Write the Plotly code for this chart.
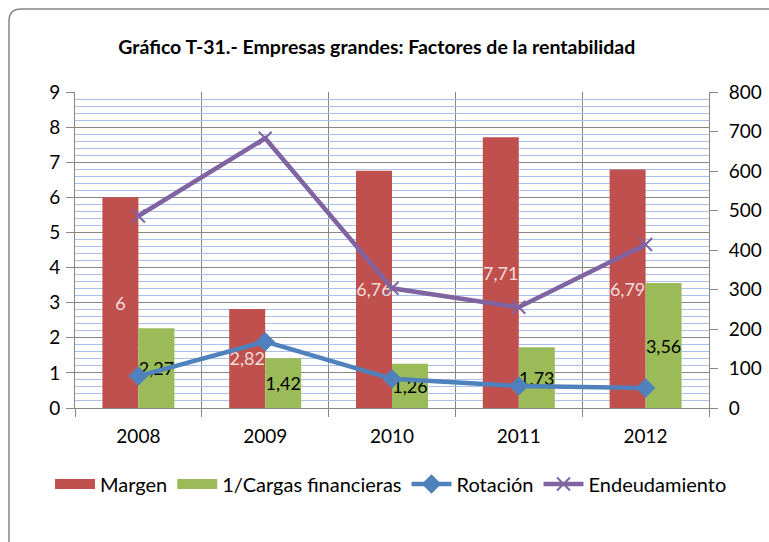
import plotly.graph_objects as go

years = ["2008", "2009", "2010", "2011", "2012"]
margen = [6, 2.82, 6.76, 7.71, 6.79]
cargas = [2.27, 1.42, 1.26, 1.73, 3.56]
rotacion = [0.91, 1.89, 0.83, 0.63, 0.57]
endeudamiento = [486, 683, 303, 255, 414]

left_ticks = list(range(0, 10))
right_ticks = list(range(0, 900, 100))

xpos = list(range(len(years)))

def fmt(v):
    s = ("%g" % v).replace(".", ",")
    return s

FONT = "Lato"
RED, GREEN, BLUE, PURPLE = "#C0504D", "#9BBB59", "#4F81BD", "#8064A2"

fig = go.Figure()
fig.add_trace(go.Bar(
    x=xpos, y=margen, name="Margen", marker=dict(color=RED, line=dict(width=0)),
    text=[fmt(v) for v in margen], textposition="inside", insidetextanchor="middle",
    constraintext="none", textangle=0, showlegend=False,
    textfont=dict(color="#F2DCDB", size=18, family=FONT),
))
fig.add_trace(go.Bar(
    x=xpos, y=cargas, name="1/Cargas financieras", marker=dict(color=GREEN, line=dict(width=0)),
    text=[fmt(v) for v in cargas], textposition="inside", insidetextanchor="middle",
    constraintext="none", textangle=0, showlegend=False,
    textfont=dict(color="#000000", size=18, family=FONT),
))
# legend swatches for the bar series (wide rectangles like the original)
fig.add_trace(go.Scatter(x=[None], y=[None], name="Margen", mode="lines",
                         line=dict(color=RED, width=12), legendrank=1))
fig.add_trace(go.Scatter(x=[None], y=[None], name="1/Cargas financieras", mode="lines",
                         line=dict(color=GREEN, width=12), legendrank=2))
fig.add_trace(go.Scatter(
    x=xpos, y=rotacion, name="Rotación", mode="lines+markers", legendrank=3,
    line=dict(color=BLUE, width=4.5),
    marker=dict(symbol="diamond", size=15, color=BLUE),
))
fig.add_trace(go.Scatter(
    x=xpos, y=endeudamiento, name="Endeudamiento", mode="lines+markers", yaxis="y2", legendrank=4,
    line=dict(color=PURPLE, width=4.5),
    marker=dict(symbol="x-thin", size=13, color=PURPLE, line=dict(color=PURPLE, width=2)),
))

# plot area in px: x 75..709, y 92..408
L, R, T, B = 75, 709, 92, 408
W, H = 769, 542

def px_x(p):
    return (p - L) / (R - L)

def px_y(p):
    return (B - p) / (B - T)

x0 = px_x(9)
yt = px_y(9)
xr = px_x(800)
yb = px_y(600)
rx = 12 / (R - L)
ry = 12 / (B - T)
border = f"M {x0},{yb} L {x0},{yt - ry} Q {x0},{yt} {x0 + rx},{yt} L {xr},{yt}"

fig.update_layout(
    width=W, height=H,
    margin=dict(l=L, r=W - R, t=T, b=H - B, autoexpand=False),
    paper_bgcolor="white", plot_bgcolor="white",
    font=dict(family=FONT, size=19, color="#000000"),
    barmode="group", bargap=0.432, bargroupgap=0,
    title=dict(text="<b>Gráfico T-31.- Empresas grandes: Factores de la rentabilidad</b>",
               x=0.49, xanchor="center", y=1 - 47 / H, yanchor="middle",
               font=dict(family=FONT, size=19.5, color="#000000")),
    xaxis=dict(
        range=[-0.5, 4.5], tickmode="array", tickvals=xpos, ticktext=years,
        showgrid=False, ticks="", showline=True, linecolor="#868686", linewidth=1,
        tickfont=dict(size=19), ticklabelstandoff=11, automargin=False,
        minor=dict(tickmode="linear", tick0=-0.5, dtick=1, showgrid=True,
                   gridcolor="#868686", gridwidth=1, ticks="outside", ticklen=8,
                   tickcolor="#868686"),
        zeroline=False, fixedrange=True,
    ),
    yaxis=dict(
        range=[0, 9], tickmode="array", tickvals=left_ticks,
        showgrid=True, gridcolor="#868686", gridwidth=1,
        ticks="outside", ticklen=8, tickcolor="#868686",
        showline=True, linecolor="#868686", linewidth=1,
        tickfont=dict(size=19), ticklabelstandoff=2, automargin=False,
        minor=dict(dtick=0.2, showgrid=True, gridcolor="#A9C1E8", gridwidth=1),
        zeroline=False,
    ),
    yaxis2=dict(
        range=[0, 800], tickmode="array", tickvals=right_ticks, overlaying="y", side="right",
        showgrid=False, ticks="outside", ticklen=8, tickcolor="#868686",
        showline=True, linecolor="#868686", linewidth=1, automargin=False,
        tickfont=dict(size=19), ticklabelstandoff=7, zeroline=False,
    ),
    legend=dict(orientation="h", x=px_x(50), xanchor="left", y=px_y(484), yanchor="middle",
                font=dict(size=20), itemwidth=40, tracegroupgap=0, bgcolor="rgba(0,0,0,0)"),
    shapes=[dict(type="path", path=border, xref="paper", yref="paper",
                 line=dict(color="#868686", width=1.5), layer="above")],
)

fig.write_html("out.html", config={"displayModeBar": False},
               post_script="document.body.style.margin='0';document.body.style.padding='0';")
